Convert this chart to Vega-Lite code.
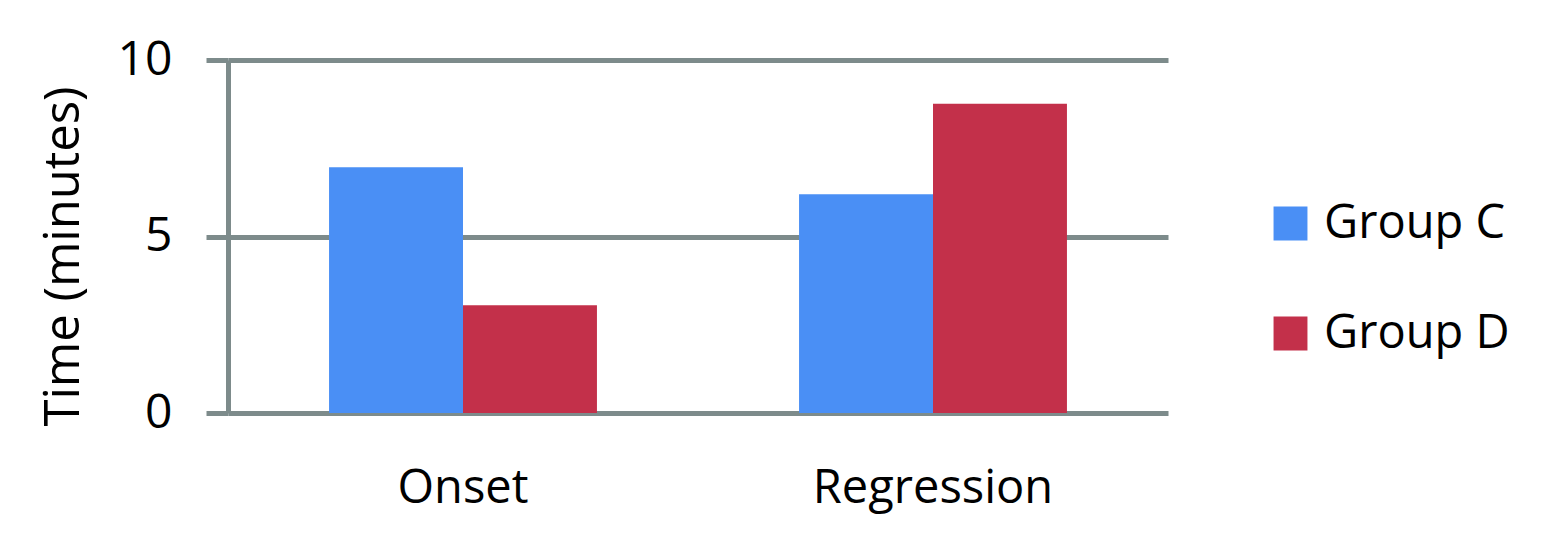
{
  "$schema": "https://vega.github.io/schema/vega-lite/v6.json",
  "autosize": {"type": "none"},
  "width": 940,
  "height": 353,
  "padding": {"left": 228, "top": 60, "right": 392, "bottom": 134},
  "background": "white",
  "data": {"values": [
    {"phase": "Onset", "group": "Group C", "time": 6.96},
    {"phase": "Onset", "group": "Group D", "time": 3.05},
    {"phase": "Regression", "group": "Group C", "time": 6.2},
    {"phase": "Regression", "group": "Group D", "time": 8.76}
  ]},
  "config": {
    "view": {"stroke": null},
    "font": "Open Sans"
  },
  "mark": {"type": "bar"},
  "encoding": {
    "x": {
      "field": "phase", "type": "nominal",
      "scale": {"paddingInner": 0.43, "paddingOuter": 0.215},
      "axis": {"title": null, "labelAngle": 0, "domain": false, "ticks": false, "grid": false, "labelLimit": 0,
               "labelFontSize": 47, "labelColor": "#000000", "labelPadding": 52, "labelFont": "Open Sans"}
    },
    "xOffset": {"field": "group", "type": "nominal", "scale": {"paddingInner": 0, "paddingOuter": 0}},
    "y": {
      "field": "time", "type": "quantitative",
      "scale": {"domain": [0, 10], "nice": false},
      "axis": {
        "title": "Time (minutes)", "titleFontSize": 49, "titleFontWeight": "normal", "titleColor": "#000000",
        "titleX": -140, "titleY": 196, "titleFont": "Open Sans",
        "values": [0, 5, 10], "labelFontSize": 48, "labelColor": "#000000", "labelPadding": 34, "labelFont": "Open Sans",
        "tickSize": 22, "tickColor": "#7d8b8b", "tickWidth": 5,
        "domainColor": "#7d8b8b", "domainWidth": 5,
        "grid": true, "gridColor": "#7d8b8b", "gridWidth": 5
      }
    },
    "color": {
      "field": "group", "type": "nominal",
      "scale": {"domain": ["Group C", "Group D"], "range": ["#4a8ff5", "#c3304a"]},
      "legend": {
        "title": null, "orient": "none", "legendX": 1039, "legendY": 140,
        "symbolType": "square", "symbolSize": 1150, "symbolStrokeWidth": 0,
        "labelFontSize": 47, "labelColor": "#000000", "labelFont": "Open Sans", "labelLimit": 0,
        "rowPadding": 62, "labelOffset": 10
      }
    }
  }
}
